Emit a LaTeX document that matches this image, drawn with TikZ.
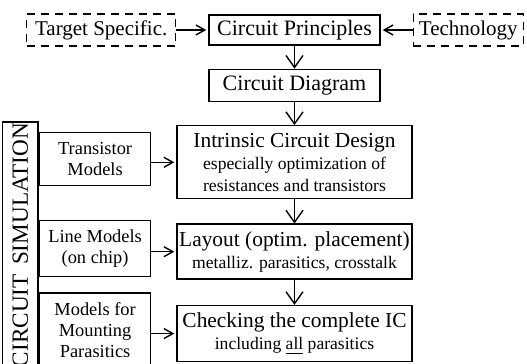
\documentclass[tikz,border=0pt]{standalone}
\usepackage{fontspec}
\setmainfont{Liberation Serif}
\usetikzlibrary{arrows.meta, positioning}
\tikzset{
    block/.style={rectangle, draw, line width=0.7pt, inner sep=1pt,
        minimum width=85.5pt, align=center, font=\fontsize{11}{13}\selectfont},
    bigblock/.style={rectangle, draw, line width=0.7pt, inner sep=1pt,
        minimum width=117.5pt, align=center, font=\fontsize{10.7}{11}\selectfont},
    inputblock/.style={rectangle, draw, line width=0.6pt, dash pattern=on 4pt off 3pt,
        inner sep=1pt, minimum height=16pt, align=center, font=\fontsize{10.5}{12}\selectfont},
    modelblock/.style={rectangle, draw, line width=0.7pt, inner sep=1pt,
        minimum width=55.5pt, align=center, font=\fontsize{9.2}{10.5}\selectfont},
    simbar/.style={rectangle, draw, line width=0.7pt, inner sep=0pt,
        minimum width=18pt, minimum height=123pt, font=\fontsize{11.6}{13}\selectfont},
    arrow/.style={-{Straight Barb[length=4.5pt, width=5pt]}, line width=0.7pt, shorten >=1pt},
    downarrow/.style={-{Straight Barb[length=6pt, width=8.5pt]}, line width=0.7pt}
}
\newcommand{\subline}[1]{{\fontsize{8.8}{10.5}\selectfont #1}}

\begin{document}
\begin{tikzpicture}

    \useasboundingbox (0,0) rectangle (263.5pt,-182pt);

    % design flow, top to bottom
    \node[block, minimum height=15pt] (princ) at (147.25pt,-15pt) {Circuit Principles};
    \node[block, minimum height=16pt, below=11.5pt of princ] (diag) {Circuit Diagram};
    \node[bigblock, minimum height=36.5pt, below=11.5pt of diag] (intr)
        {Intrinsic Circuit Design\\\subline{especially optimization of}\\\subline{resistances and transistors}};
    \node[bigblock, minimum height=27.5pt, below=12pt of intr] (layout)
        {Layout (optim. placement)\\\subline{metalliz. parasitics, crosstalk}};
    \node[bigblock, minimum height=28pt, below=12.5pt of layout] (check)
        {Checking the complete IC\\\subline{including \underline{all} parasitics}};

    % inputs to the circuit principles
    \node[inputblock, minimum width=74.5pt, left=16pt of princ] (target) {Target Specific.};
    \node[inputblock, minimum width=55pt, right=16pt of princ] (techn) {Technology};

    % simulation models
    \node[modelblock, minimum height=26.5pt, left=12.5pt of intr, yshift=1.5pt] (trans) {Transistor\\Models};
    \node[modelblock, minimum height=28pt, left=12.5pt of layout, yshift=1.5pt] (line) {Line Models\\(on chip)};
    \node[modelblock, minimum height=37.5pt, left=12.5pt of check, yshift=1.5pt] (mount) {Models for\\Mounting\\Parasitics};

    \node[simbar, anchor=south east] (sim) at (mount.south west)
        {\rotatebox{90}{CIRCUIT\hspace{0.4em}SIMULATION}};

    \draw[arrow] (target) -- (princ);
    \draw[arrow] (techn) -- (princ);
    \draw[downarrow] (princ) -- (diag);
    \draw[downarrow] (diag) -- (intr);
    \draw[downarrow] (intr) -- (layout);
    \draw[downarrow] (layout) -- (check);
    \draw[arrow] (intr.west -| trans.east) -- (intr.west);
    \draw[arrow] (layout.west -| line.east) -- (layout.west);
    \draw[arrow] (check.west -| mount.east) -- (check.west);

\end{tikzpicture}
\end{document}
